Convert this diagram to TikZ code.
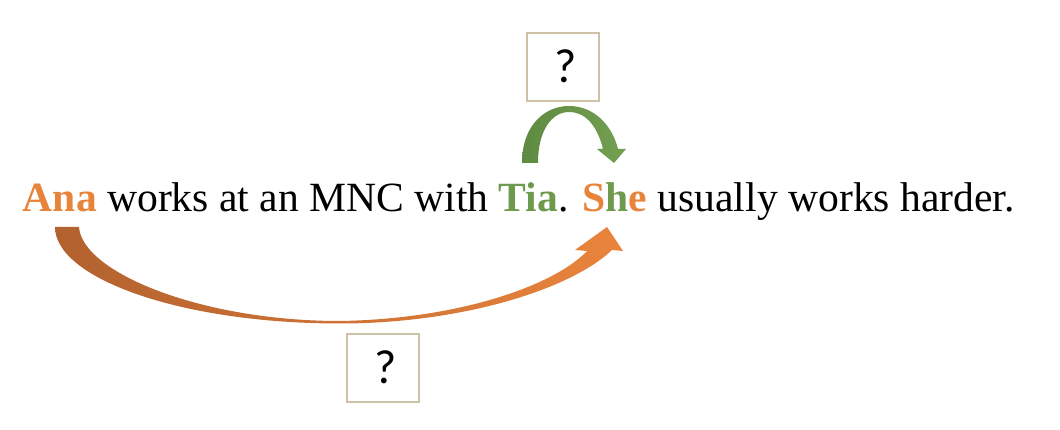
\documentclass[tikz,border=0pt]{standalone}
\usepackage{fontspec}
\setmainfont{Liberation Serif}
\newfontfamily\qfont{Carlito}
\definecolor{orTxt}{HTML}{E8833A}
\definecolor{grTxt}{HTML}{6F9A4E}
\definecolor{orDark}{HTML}{B2622F}
\definecolor{orLight}{HTML}{EA843C}
\definecolor{grDark}{HTML}{5F8A42}
\definecolor{grLight}{HTML}{74A052}
\definecolor{boxLine}{HTML}{CDC2A5}
\tikzset{
  qbox/.style={draw=boxLine, line width=2pt, minimum width=72pt, minimum height=68pt, inner sep=0pt, font=\qfont\fontsize{48}{48}\selectfont},
  sent/.style={anchor=base west, inner sep=0pt, font=\fontsize{41.6}{42}\selectfont}
}
\begin{document}
\begin{tikzpicture}[x=1pt,y=-1pt]
\useasboundingbox (0,0) rectangle (1060,430);
\node[sent] (s) at (22.7,212) {\textcolor{orTxt}{\textbf{Ana}} works at an MNC with \textcolor{grTxt}{\textbf{Tia}}. \textcolor{orTxt}{\textbf{S}}\textcolor{grTxt}{\textbf{h}}\textcolor{orTxt}{\textbf{e}} usually works harder.};
\node[qbox] (qtop) at (563,67) {};
\node[qbox] (qbot) at (383,368) {};
\node[font=\qfont\fontsize{48}{48}\selectfont, inner sep=0pt] (qt) at ([xshift=2.5pt,yshift=1pt]qtop.center) {?};
\node[font=\qfont\fontsize{48}{48}\selectfont, inner sep=0pt] (qb) at ([xshift=2.5pt,yshift=1pt]qbot.center) {?};
% orange curved arrow (Ana -> She)
\shade[left color=orDark, right color=orLight]
  (55,227) -- (79,227)
  .. controls (82,272) and (200,321) .. (340,321)
  .. controls (460,319) and (555,285) .. (587,251)
  -- (575,250) -- (607,227) -- (623,251) -- (612,250)
  .. controls (570,290) and (460,323.5) .. (340,323.5)
  .. controls (180,323.5) and (55,278) .. (55,227) -- cycle;
% green curved arrow (Tia -> She)
\shade[left color=grDark, right color=grLight]
  (522,163) .. controls (522,125) and (545,106) .. (569,106)
  .. controls (594,106) and (612,125) .. (618,149)
  -- (626,149) -- (614,163) -- (597,149) -- (603,149)
  .. controls (597,125) and (585,112) .. (569,112)
  .. controls (552,112) and (538,130) .. (538,163) -- cycle;
\end{tikzpicture}
\end{document}
